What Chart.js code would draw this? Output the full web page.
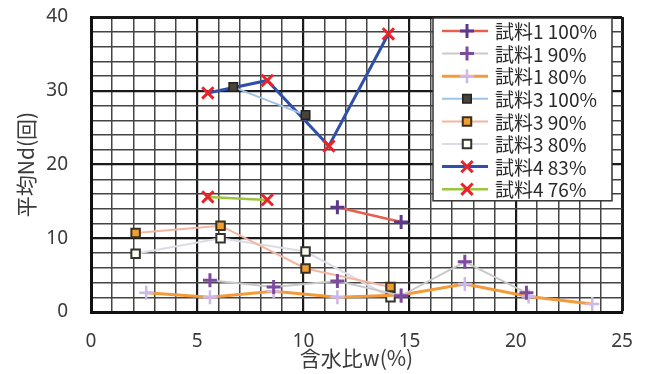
<!DOCTYPE html>
<html>
<head>
<meta charset="utf-8">
<script src="https://cdn.jsdelivr.net/npm/chart.js@4.4.1/dist/chart.umd.min.js"></script>
<style>
  html, body { margin: 0; padding: 0; background: #fff; }
  #wrap { width: 647px; height: 374px; position: relative; }
</style>
</head>
<body>
<div id="wrap"><canvas id="ndChart"></canvas></div>
<script>
const seriesNames = ['試料1 100%', '試料1 90%', '試料1 80%', '試料3 100%', '試料3 90%', '試料3 80%', '試料4 83%', '試料4 76%'];

// 含水比 w(%) and 平均Nd for each series
const s1_100_x = [11.6, 14.6];
const s1_100_y = [14.2, 12.2];
const s1_90_x = [5.6, 8.6, 11.6, 14.6, 17.6, 20.5];
const s1_90_y = [4.3, 3.4, 4.2, 2.2, 6.8, 2.6];
const s1_80_x = [2.6, 5.6, 8.6, 11.6, 14.6, 17.6, 20.6, 23.6];
const s1_80_y = [2.6, 2.0, 2.8, 2.0, 2.3, 3.8, 2.1, 1.1];
const s3_100_x = [6.7, 10.1];
const s3_100_y = [30.5, 26.7];
const s3_90_x = [2.1, 6.1, 10.1, 14.1];
const s3_90_y = [10.7, 11.7, 5.9, 3.4];
const s3_80_x = [2.1, 6.1, 10.1, 14.1];
const s3_80_y = [7.9, 10.0, 8.2, 2.0];
const s4_83_x = [5.5, 8.3, 11.2, 14.0];
const s4_83_y = [29.7, 31.4, 22.5, 37.7];
const s4_76_x = [5.5, 8.3];
const s4_76_y = [15.6, 15.2];

const xTickLabels = [0, 5, 10, 15, 20, 25];
const yTickLabels = [0, 10, 20, 30, 40];

function pts(xs, ys) {
    return xs.map((x, i) => ({ x: x, y: ys[i] }));
}

const numFont = { family: "'Noto Sans', 'DejaVu Sans', sans-serif", size: 19 };
const jpFont = "'Noto Sans CJK JP', 'Noto Sans', sans-serif";

const ds = [
    { data: pts(s1_100_x, s1_100_y), borderColor: '#e8604c', borderWidth: 2.5, pointStyle: 'cross', pointRadius: 7, pointBorderWidth: 3, pointBorderColor: '#5b3a8c', pointBackgroundColor: '#5b3a8c' },
    { data: pts(s1_90_x, s1_90_y), borderColor: '#c9c9c9', borderWidth: 2, pointStyle: 'cross', pointRadius: 7, pointBorderWidth: 3, pointBorderColor: '#7d4a9e', pointBackgroundColor: '#7d4a9e' },
    { data: pts(s1_80_x, s1_80_y), borderColor: '#f39a3a', borderWidth: 3, pointStyle: 'cross', pointRadius: 7, pointBorderWidth: 2.5, pointBorderColor: '#cdb8ea', pointBackgroundColor: '#cdb8ea' },
    { data: pts(s3_100_x, s3_100_y), borderColor: '#9dc3e6', borderWidth: 2, pointStyle: 'rect', pointRadius: 6, pointBorderWidth: 1.5, pointBorderColor: '#222', pointBackgroundColor: '#4a4436' },
    { data: pts(s3_90_x, s3_90_y), borderColor: '#f5b5a0', borderWidth: 2, pointStyle: 'rect', pointRadius: 6, pointBorderWidth: 2, pointBorderColor: '#3a3020', pointBackgroundColor: '#f0a030' },
    { data: pts(s3_80_x, s3_80_y), borderColor: '#dcdce6', borderWidth: 2, pointStyle: 'rect', pointRadius: 6, pointBorderWidth: 2, pointBorderColor: '#333', pointBackgroundColor: '#fffff2' },
    { data: pts(s4_83_x, s4_83_y), borderColor: '#2f4fa8', borderWidth: 3, pointStyle: 'crossRot', pointRadius: 8, pointBorderWidth: 3, pointBorderColor: '#e8242a', pointBackgroundColor: '#e8242a' },
    { data: pts(s4_76_x, s4_76_y), borderColor: '#9bc53d', borderWidth: 2.5, pointStyle: 'crossRot', pointRadius: 8, pointBorderWidth: 3, pointBorderColor: '#e8242a', pointBackgroundColor: '#e8242a' }
].map((d, i) => Object.assign({ label: seriesNames[i], showLine: true, fill: false, tension: 0 }, d));

// legend box drawn inside the plot, top right
const boxLegend = {
    id: 'boxLegend',
    afterDraw(chart) {
        const ctx = chart.ctx;
        const area = chart.chartArea;
        const right = area.right - 10;
        const left = right - 179;
        const top = area.top + 1;
        const rowH = 22.6;
        const h = rowH * seriesNames.length + 2;
        ctx.save();
        ctx.fillStyle = '#fff';
        ctx.fillRect(left, top, right - left, h);
        ctx.strokeStyle = '#333';
        ctx.lineWidth = 1.5;
        ctx.strokeRect(left, top, right - left, h);
        ctx.font = '19px ' + jpFont;
        ctx.textBaseline = 'middle';
        chart.data.datasets.forEach((d, i) => {
            const y = top + 13 + i * rowH;
            ctx.strokeStyle = d.borderColor;
            ctx.lineWidth = d.borderWidth;
            ctx.beginPath();
            ctx.moveTo(left + 9, y);
            ctx.lineTo(left + 55, y);
            ctx.stroke();
            ctx.strokeStyle = d.pointBorderColor;
            ctx.fillStyle = d.pointBackgroundColor;
            ctx.lineWidth = d.pointBorderWidth;
            Chart.helpers.drawPoint(ctx, { pointStyle: d.pointStyle, rotation: 0, radius: d.pointRadius, borderWidth: d.pointBorderWidth }, left + 34, y);
            ctx.fillStyle = '#2a2a2a';
            ctx.fillText(d.label, left + 62, y + 1);
        });
        ctx.restore();
    }
};

new Chart(document.getElementById('ndChart'), {
    type: 'scatter',
    data: { datasets: ds },
    options: {
        responsive: true,
        maintainAspectRatio: false,
        animation: false,
        layout: { padding: { top: 17, right: 25, left: 0, bottom: 0 } },
        plugins: { legend: { display: false }, tooltip: { enabled: false } },
        scales: {
            x: {
                type: 'linear',
                min: 0,
                max: 25,
                afterFit: s => { s.height = 62; s.paddingLeft = 0; s.paddingRight = 0; },
                ticks: {
                    stepSize: 1,
                    autoSkip: false,
                    maxRotation: 0,
                    padding: 18,
                    color: '#3a3a3a',
                    font: numFont,
                    callback: v => xTickLabels.includes(v) ? String(v) : ''
                },
                grid: {
                    drawTicks: false,
                    color: c => c.tick.value % 5 === 0 ? '#1a1a1a' : '#444',
                    lineWidth: c => c.tick.value === 25 ? 3 : (c.tick.value % 5 === 0 ? 2.2 : 1.5)
                },
                border: { width: 3, color: '#111' },
                title: {
                    display: true,
                    text: '含水比w(%)',
                    color: '#3a3a3a',
                    font: { family: jpFont, size: 21 },
                    padding: { top: 0, bottom: 3 }
                }
            },
            y: {
                min: 0,
                max: 40,
                afterFit: s => { s.width = 91; s.paddingTop = 0; s.paddingBottom = 0; },
                ticks: {
                    stepSize: 2,
                    autoSkip: false,
                    padding: 23,
                    color: '#3a3a3a',
                    font: numFont,
                    callback: v => yTickLabels.includes(v) ? String(v) : ''
                },
                grid: {
                    drawTicks: false,
                    color: c => c.tick.value % 10 === 0 ? '#1a1a1a' : '#444',
                    lineWidth: c => c.tick.value === 40 ? 3 : (c.tick.value % 10 === 0 ? 2.2 : 1.5)
                },
                border: { width: 3, color: '#111' },
                title: {
                    display: true,
                    text: '平均Nd(回)',
                    color: '#3a3a3a',
                    font: { family: jpFont, size: 21 },
                    padding: { top: 13, bottom: 0 }
                }
            }
        }
    },
    plugins: [boxLegend]
});
</script>
</body>
</html>
